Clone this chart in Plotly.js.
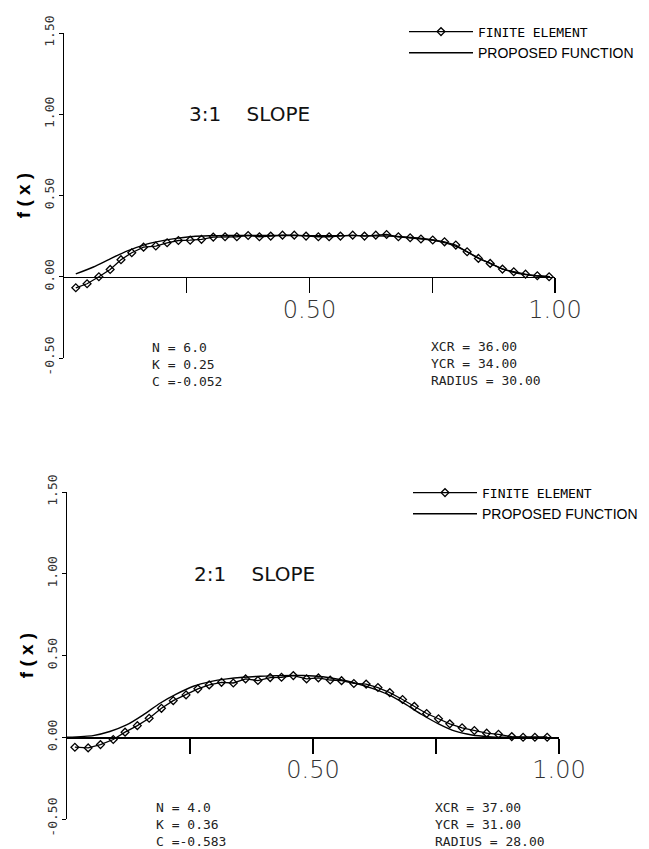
<!DOCTYPE html>
<html><head><meta charset="utf-8">
<script src="https://cdn.plot.ly/plotly-3.0.1.min.js"></script>
<style>html,body{margin:0;padding:0;background:#fff}</style>
</head><body><div id="chart" style="width:649px;height:849px"></div>
<script>
// ---- Panel 1: 3:1 slope ----
const xFE1 = [0.024,0.047,0.071,0.094,0.116,0.138,0.162,0.187,0.210,0.233,0.257,0.280,0.304,0.328,0.352,0.375,0.398,0.421,0.445,0.469,0.493,0.518,0.540,0.563,0.588,0.612,0.635,0.657,0.681,0.705,0.727,0.751,0.775,0.798,0.821,0.844,0.868,0.893,0.916,0.940,0.964,0.988];
const yFE1 = [-0.068,-0.043,0.000,0.045,0.105,0.148,0.182,0.189,0.209,0.223,0.225,0.230,0.244,0.246,0.246,0.254,0.246,0.250,0.256,0.256,0.250,0.246,0.246,0.250,0.256,0.250,0.256,0.260,0.246,0.240,0.232,0.226,0.215,0.195,0.154,0.113,0.082,0.047,0.031,0.016,0.006,0.000];
const xPF1 = [0.024,0.060,0.094,0.128,0.162,0.196,0.229,0.263,0.297,0.331,0.400,0.500,0.600,0.680,0.720,0.750,0.775,0.800,0.820,0.845,0.870,0.890,0.915,0.940,0.965,0.990];
const yPF1 = [0.018,0.060,0.110,0.158,0.195,0.219,0.236,0.248,0.252,0.254,0.254,0.253,0.253,0.248,0.238,0.226,0.210,0.185,0.155,0.115,0.080,0.052,0.028,0.013,0.005,0.001];

// ---- Panel 2: 2:1 slope ----
const xFE2 = [0.016,0.043,0.068,0.094,0.118,0.143,0.167,0.192,0.216,0.242,0.266,0.289,0.314,0.338,0.363,0.388,0.413,0.436,0.460,0.487,0.511,0.535,0.558,0.583,0.608,0.632,0.656,0.682,0.706,0.731,0.755,0.778,0.803,0.828,0.853,0.877,0.904,0.927,0.951,0.976];
const yFE2 = [-0.061,-0.065,-0.045,-0.014,0.031,0.071,0.116,0.177,0.224,0.259,0.296,0.320,0.336,0.332,0.357,0.347,0.365,0.367,0.377,0.357,0.363,0.350,0.346,0.329,0.325,0.304,0.273,0.231,0.189,0.145,0.113,0.082,0.058,0.041,0.025,0.018,0.004,0.000,0.000,0.000];
const xPF2 = [0.000,0.053,0.087,0.121,0.155,0.189,0.223,0.257,0.291,0.325,0.358,0.392,0.426,0.480,0.520,0.551,0.585,0.619,0.653,0.687,0.721,0.755,0.789,0.823,0.856,0.890,0.976];
const yPF2 = [0.000,0.010,0.035,0.075,0.137,0.208,0.265,0.312,0.340,0.357,0.367,0.373,0.377,0.378,0.370,0.355,0.332,0.300,0.260,0.204,0.139,0.082,0.037,0.014,0.004,0.000,0.000];

// ---- Text ----
const seriesNames = ['FINITE ELEMENT', 'PROPOSED FUNCTION'];
const panelTitles = ['3:1\u00A0\u00A0\u00A0\u00A0SLOPE', '2:1\u00A0\u00A0\u00A0\u00A0SLOPE'];
const paramsLeft = [['N = 6.0','K = 0.25','C =-0.052'], ['N = 4.0','K = 0.36','C =-0.583']];
const paramsRight = [['XCR = 36.00','YCR = 34.00','RADIUS = 30.00'], ['XCR = 37.00','YCR = 31.00','RADIUS = 28.00']];
const yTickVals = [-0.5, 0, 0.5, 1.0, 1.5];
const yTickText = ['-0.50','0.00','0.50','1.00','1.50'];
const xTickVals = [0.25, 0.5, 0.75, 1.0];
const xTickText = ['', '0.50', '', '1.00'];
const yTitle = 'f ( x )';

const H = 849, W = 649;
const mono = 'DejaVu Sans Mono, monospace';
const sans = 'Liberation Sans, Arial, sans-serif';
const feName = '<span style="font-family:DejaVu Sans Mono;font-size:13px">' + seriesNames[0] + '</span>';

function feTrace(x, y, xa, ya, lg) {
  return {x, y, xaxis: xa, yaxis: ya, legend: lg, name: feName, type: 'scatter', mode: 'lines+markers',
    line: {color: '#000', width: 1.3},
    marker: {symbol: 'diamond-open', size: 6, color: '#000', line: {width: 1.3, color: '#000'}}};
}
function pfTrace(x, y, xa, ya, lg) {
  return {x, y, xaxis: xa, yaxis: ya, legend: lg, name: seriesNames[1], type: 'scatter', mode: 'lines',
    line: {color: '#000', width: 1.4, shape: 'spline', smoothing: 0.6}};
}

const data = [
  feTrace(xFE1, yFE1, 'x', 'y', 'legend'),
  pfTrace(xPF1, yPF1, 'x', 'y', 'legend'),
  feTrace(xFE2, yFE2, 'x2', 'y2', 'legend2'),
  pfTrace(xPF2, yPF2, 'x2', 'y2', 'legend2')
];

function py(p) { return 1 - p / H; }
const yd1 = [py(358), py(33)];
const yd2 = [py(819), py(492)];
const xd1 = [64 / W, 555 / W];
const xd2 = [67 / W, 559 / W];

function xAxis(domain, yd) {
  return {domain, range: [0, 1], anchor: 'free', position: yd[0] + 0.25 * (yd[1] - yd[0]),
    showgrid: false, zeroline: false, showline: true, linecolor: '#000', linewidth: 1.3,
    ticks: 'outside', ticklen: 15, tickwidth: 1.2, tickcolor: '#000',
    tickvals: xTickVals, ticktext: xTickText, ticklabelstandoff: -4,
    tickfont: {family: 'DejaVu Sans, sans-serif', size: 24, color: '#333', weight: 200}, fixedrange: true};
}
function yAxis(domain, xa) {
  return {domain, range: [-0.5, 1.5], anchor: xa,
    showgrid: false, zeroline: false, showline: true, linecolor: '#000', linewidth: 1.3,
    ticks: 'outside', ticklen: 4, tickwidth: 1, tickcolor: '#000',
    tickvals: yTickVals, ticktext: yTickText, tickangle: -90,
    tickfont: {family: mono, size: 13, color: '#333'},
    title: {text: yTitle, font: {family: sans, size: 19, color: '#000', weight: 'bold'}, standoff: 6},
    fixedrange: true};
}

function textBlock(lines, xpx, ytoppx) {
  return {xref: 'paper', yref: 'paper', x: xpx / W, y: py(ytoppx), xanchor: 'left', yanchor: 'top',
    align: 'left', showarrow: false, text: lines.join('<br>'),
    font: {family: mono, size: 13, color: '#222'}};
}

const annotations = [
  {xref: 'x', yref: 'y', x: 0.25, y: 1.0, xanchor: 'left', yanchor: 'middle', showarrow: false,
   text: panelTitles[0], font: {family: 'DejaVu Sans, sans-serif', size: 20, color: '#111'}},
  {xref: 'x2', yref: 'y2', x: 0.254, y: 1.0, xanchor: 'left', yanchor: 'middle', showarrow: false,
   text: panelTitles[1], font: {family: 'DejaVu Sans, sans-serif', size: 20, color: '#111'}},
  textBlock(paramsLeft[0], 150, 338),
  textBlock(paramsRight[0], 429, 337),
  textBlock(paramsLeft[1], 154, 798),
  textBlock(paramsRight[1], 433, 798)
];

const legendBase = {xanchor: 'left', yanchor: 'top', bgcolor: 'rgba(0,0,0,0)', borderwidth: 0,
  itemwidth: 64, tracegroupgap: 0, font: {family: sans, size: 14, color: '#000'}, itemclick: false, itemdoubleclick: false};

const layout = {
  width: W, height: H, margin: {l: 0, r: 0, t: 0, b: 0}, paper_bgcolor: '#fff', plot_bgcolor: 'rgba(0,0,0,0)',
  showlegend: true,
  xaxis: xAxis(xd1, yd1), yaxis: yAxis(yd1, 'x'),
  xaxis2: xAxis(xd2, yd2), yaxis2: yAxis(yd2, 'x2'),
  legend: Object.assign({x: 404 / W, y: py(16)}, legendBase),
  legend2: Object.assign({x: 408 / W, y: py(477)}, legendBase),
  annotations
};

Plotly.newPlot('chart', data, layout, {displayModeBar: false, staticPlot: true});
</script></body></html>
